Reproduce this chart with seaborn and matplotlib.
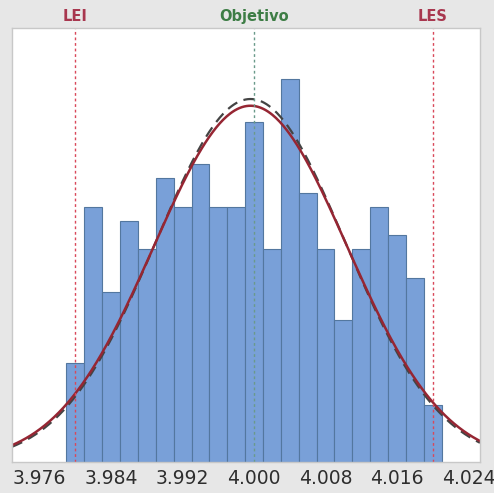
import numpy as np
import pandas as pd
import matplotlib
matplotlib.use("Agg")
import matplotlib.pyplot as plt
import seaborn as sns

# ---- data ----
bin_start = 3.979
bin_width = 0.002
counts = [7, 18, 12, 17, 15, 20, 18, 21, 18, 18, 24, 15, 27, 19, 15, 10, 15, 18, 16, 13, 4]
tick_values = [3.976, 3.984, 3.992, 4.000, 4.008, 4.016, 4.024]
tick_labels = ["3.976", "3.984", "3.992", "4.000", "4.008", "4.016", "4.024"]
lei, objetivo, les = 3.980, 4.000, 4.020
fit_mean = 3.9996
sd_within = 0.0108
sd_overall = 0.0106

n_bins = len(counts)
bin_end = bin_start + bin_width * n_bins
centers = bin_start + bin_width * (np.arange(n_bins) + 0.5)
n_total = sum(counts)
df = pd.DataFrame({"x": centers, "w": counts})

sns.set_style("white")
plt.rcParams['font.family'] = ['DejaVu Sans']

fig = plt.figure(figsize=(4.94, 4.93), dpi=100, facecolor="#e7e7e7")
ax = fig.add_axes([12/494, 31/493, 468/494, 434/493])
ax.set_facecolor("white")

sns.histplot(data=df, x="x", weights="w", bins=n_bins, binrange=(bin_start, bin_end), ax=ax,
             color="#79a0d8", edgecolor="#53779f", linewidth=0.8, alpha=1.0)

xs = np.linspace(3.9729, 4.0253, 400)
def normal_curve(x, m, s):
    return n_total * bin_width * np.exp(-0.5 * ((x - m) / s) ** 2) / (s * np.sqrt(2 * np.pi))

sns.lineplot(x=xs, y=normal_curve(xs, fit_mean, sd_overall), ax=ax, color="#444444",
             linestyle=(0, (5, 3)), linewidth=1.6)
sns.lineplot(x=xs, y=normal_curve(xs, fit_mean, sd_within), ax=ax, color="#962633",
             linewidth=1.8)

ax.axvline(lei, color="#d9485a", linestyle=(0, (2, 2)), linewidth=1.0)
ax.axvline(les, color="#d9485a", linestyle=(0, (2, 2)), linewidth=1.0)
ax.axvline(objetivo, color="#6a9a8a", linestyle=(0, (2, 2)), linewidth=1.0)

ax.set_xlim(3.9729, 4.0253)
ax.set_ylim(0, 30.6)
ax.set_xticks(tick_values)
ax.set_xticklabels(tick_labels)
ax.set_yticks([])
ax.set_xlabel("")
ax.set_ylabel("")
ax.tick_params(axis="x", length=3, color="#aaaaaa", labelsize=13.5, pad=2, labelcolor="#2e2e2e")
for sp in ax.spines.values():
    sp.set_color("#c8c8c8")
    sp.set_linewidth(1.0)

ax.text(lei, 1.01, "LEI", transform=ax.get_xaxis_transform(), ha="center", va="bottom",
        color="#a8374f", fontsize=10.5, fontweight="bold")
ax.text(les, 1.01, "LES", transform=ax.get_xaxis_transform(), ha="center", va="bottom",
        color="#a8374f", fontsize=10.5, fontweight="bold")
ax.text(objetivo, 1.01, "Objetivo", transform=ax.get_xaxis_transform(), ha="center", va="bottom",
        color="#3d7d45", fontsize=10.5, fontweight="bold")

fig.savefig("out.png", dpi=100, facecolor=fig.get_facecolor())
